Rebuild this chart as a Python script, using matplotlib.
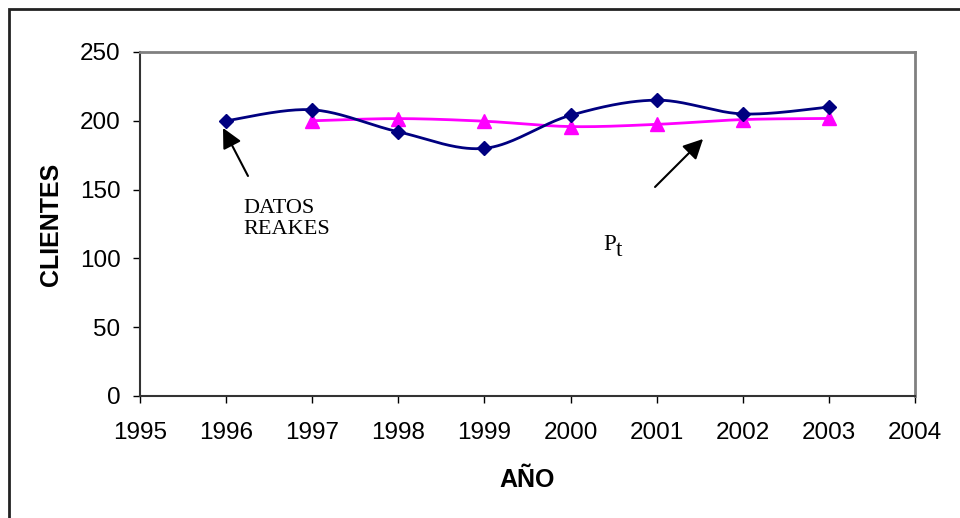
import matplotlib.pyplot as plt
import numpy as np
from matplotlib.patches import Rectangle

plt.rcParams['font.family'] = ['Liberation Sans', 'DejaVu Sans']

# observed customers per year and the smoothed forecast P_t
years_real = [1996, 1997, 1998, 1999, 2000, 2001, 2002, 2003]
clientes_real = [200, 208, 192, 180, 204, 215, 205, 210]
years_pt = [1997, 1998, 1999, 2000, 2001, 2002, 2003]
clientes_pt = [200, 201.6, 199.7, 195.8, 197.4, 200.9, 201.7]


def smooth(x, y, n=40):
    # Catmull-Rom curve through the points, like a spreadsheet "smoothed line"
    x = np.asarray(x, float)
    y = np.asarray(y, float)
    px = np.concatenate([[x[0]], x, [x[-1]]])
    py = np.concatenate([[y[0]], y, [y[-1]]])
    xs, ys = [], []
    t = np.linspace(0, 1, n)
    for i in range(1, len(px) - 2):
        for p, out in ((px, xs), (py, ys)):
            p0, p1, p2, p3 = p[i - 1], p[i], p[i + 1], p[i + 2]
            out.extend(0.5 * ((2 * p1) + (-p0 + p2) * t
                              + (2 * p0 - 5 * p1 + 4 * p2 - p3) * t ** 2
                              + (-p0 + 3 * p1 - 3 * p2 + p3) * t ** 3))
    return xs, ys


fig = plt.figure(figsize=(9.6, 5.18), dpi=100)
ax = fig.add_axes([140 / 960, 1 - 396 / 518, 775 / 960, 344 / 518])

sx, sy = smooth(years_real, clientes_real)
ax.plot(sx, sy, color='#000080', lw=2, zorder=3)
ax.plot(years_real, clientes_real, ls='none', marker='D', ms=7.5,
        color='#000080', zorder=4)

sx, sy = smooth(years_pt, clientes_pt)
ax.plot(sx, sy, color='#FF00FF', lw=2, zorder=2)
ax.plot(years_pt, clientes_pt, ls='none', marker='^', ms=10.5,
        color='#FF00FF', zorder=3)

ax.set_xlim(1995, 2004)
ax.set_ylim(0, 250)
ax.set_xticks(range(1995, 2005))
ax.set_yticks(range(0, 251, 50))
ax.tick_params(labelsize=17.5, direction='out', length=5, width=1)
ax.tick_params(axis='y', pad=9)
ax.tick_params(axis='x', pad=14)
for s in ('top', 'right'):
    ax.spines[s].set_color('#808080')
    ax.spines[s].set_linewidth(2)
for s in ('left', 'bottom'):
    ax.spines[s].set_color('#333333')
    ax.spines[s].set_linewidth(1.5)

ax.set_xlabel('AÑO', fontsize=18, fontweight='bold', labelpad=17)
ax.set_ylabel('CLIENTES', fontsize=18, fontweight='bold', labelpad=12)

# annotations
arrow = dict(arrowstyle='-|>,head_length=0.6,head_width=0.3', color='black',
             lw=1.5, mutation_scale=20, shrinkA=0, shrinkB=0)
ax.annotate('', xy=(1995.964, 194.8), xytext=(1996.254, 159.9),
            arrowprops=arrow)
ax.annotate('', xy=(2001.539, 186.8), xytext=(2000.981, 151.9),
            arrowprops=arrow)
ax.text(1996.196, 128.5, 'DATOS\nREAKES', fontsize=16, family='Liberation Serif',
        va='center', ha='left', linespacing=1.15)
ax.text(2000.38, 110, 'P', fontsize=16.5, family='Liberation Serif',
        va='center', ha='left')
ax.annotate('t', xy=(2000.38, 110), xytext=(9, -4), textcoords='offset points',
            fontsize=16.5, family='Liberation Serif', va='center', ha='left')

# border around the whole chart
fig.patches.append(Rectangle((9 / 960, -0.1), 1.2, 1 - 9 / 518 + 0.1,
                             transform=fig.transFigure, fill=False,
                             edgecolor='#222222', lw=2))

fig.savefig('out.png', dpi=100)
